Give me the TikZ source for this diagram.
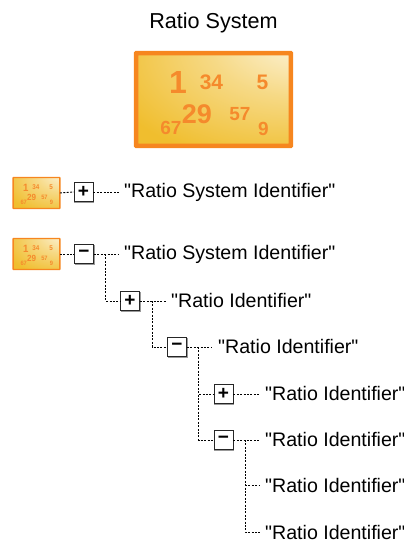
\documentclass[tikz,border=0pt]{standalone}
\usepackage{fontspec}
\setmainfont[Ligatures=TeXOff]{Liberation Sans}
\usetikzlibrary{shadows}
\definecolor{iconorange}{HTML}{F6861F}
\definecolor{icongold}{HTML}{F0BE2E}
\definecolor{digitorange}{HTML}{F58A2C}
\pgfdeclareradialshading{iconglow}{\pgfpoint{36bp}{40bp}}{
  color(0bp)=(white);
  color(8bp)=(white!82!icongold);
  color(28bp)=(white!42!icongold);
  color(54bp)=(icongold);
  color(110bp)=(icongold)}
\tikzset{
  x=1pt,y=-1pt,
  title/.style={font=\fontsize{21.6}{25}\selectfont,inner sep=0pt},
  label/.style={font=\fontsize{19.6}{24}\selectfont,anchor=west,inner sep=0pt},
  toggle/.style={draw=black!85,line width=0.9pt,fill=white,minimum size=19pt,inner sep=0pt,
    font=\fontsize{19}{19}\selectfont\bfseries,
    copy shadow={shadow xshift=0.8pt,shadow yshift=-0.8pt,draw=black!40,fill=white,line width=0.9pt}},
  link/.style={line width=0.95pt,black,dash pattern=on 2pt off 1.4pt},
  digit/.style={text=digitorange,inner sep=0pt,font=\fontsize{#1}{#1}\selectfont\bfseries},
}
\newcommand{\ratioicon}[6]{% name, cx, cy, xscale, yscale, border
  \node[minimum width=#4*154.5pt,minimum height=#5*92.5pt,inner sep=0pt] (#1) at (#2,#3) {};
  \shade[shading=iconglow,draw=iconorange,line width=#6pt,rounded corners=0.5pt]
    (#1.south west) rectangle (#1.north east);
  \begin{scope}[shift={(#2,#3)},xscale=#4,yscale=#5,transform shape]
    \node[digit=32] (#1d1) at (-35.5,-17) {1};
    \node[digit=21] (#1d2) at (-2,-17.5) {34};
    \node[digit=21] (#1d3) at (49,-17) {5};
    \node[digit=27] (#1d4) at (-16.5,14.5) {29};
    \node[digit=19] (#1d5) at (26.5,14.5) {57};
    \node[digit=19] (#1d6) at (-42.5,28.5) {67};
    \node[digit=19] (#1d7) at (50,29) {9};
  \end{scope}
}
\begin{document}
\begin{tikzpicture}
\useasboundingbox (0,0) rectangle (404,542);
\node[title] (head) at (213.5,22.5) {Ratio System};
\ratioicon{big}{213.5}{99.5}{1}{1}{4.5}
\ratioicon{sa}{36.5}{193}{0.3}{0.33}{1.3}
\ratioicon{sb}{36.5}{254}{0.3}{0.33}{1.3}

\node[toggle] (t1) at (83.5,192) {+};
\node[label] (l1) at (124,192.5) {"Ratio System Identifier"};
\node[toggle] (t2) at (84,254) {−};
\node[label] (l2) at (124,254.5) {"Ratio System Identifier"};
\node[toggle] (t3) at (130,301) {+};
\node[label] (l3) at (171,300) {"Ratio Identifier"};
\node[toggle] (t4) at (177,347) {−};
\node[label] (l4) at (218,346) {"Ratio Identifier"};
\node[toggle] (t5) at (223.5,394) {+};
\node[label] (l5) at (265,393) {"Ratio Identifier"};
\node[toggle] (t6) at (223.5,440) {−};
\node[label] (l6) at (265,439) {"Ratio Identifier"};
\node[label] (l7) at (265,485) {"Ratio Identifier"};
\node[label] (l8) at (265,532) {"Ratio Identifier"};

\coordinate (e1) at (119,192);
\coordinate (e2) at (119,254);
\coordinate (e3) at (166,301);
\coordinate (e4) at (212,347);
\coordinate (e5) at (259,394);
\coordinate (e6) at (259,440);
\coordinate (j2) at (105.5,254);
\coordinate (j3) at (152,301);
\coordinate (j4) at (198.5,347);
\coordinate (j6) at (245,440);
\coordinate (b7) at (245,485);
\coordinate (b8) at (245,532);
\coordinate (f7) at (260,485);
\coordinate (f8) at (260,532);

\draw[link] (sa.east) -- (t1.west);
\draw[link] (t1.east) -- (e1);
\draw[link] (sb.east) -- (t2.west);
\draw[link] (t2.east) -- (e2);
\draw[link] (j2) |- (t3.west);
\draw[link] (t3.east) -- (e3);
\draw[link] (j3) |- (t4.west);
\draw[link] (t4.east) -- (e4);
\draw[link] (j4) |- (t5.west);
\draw[link] (j4) |- (t6.west);
\draw[link] (t5.east) -- (e5);
\draw[link] (t6.east) -- (e6);
\draw[link] (j6) -- (b8) -- (f8);
\draw[link] (b7) -- (f7);
\end{tikzpicture}
\end{document}
